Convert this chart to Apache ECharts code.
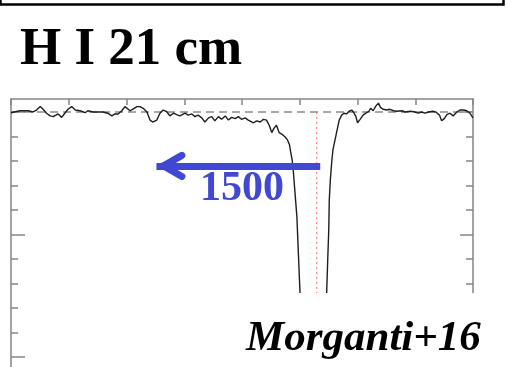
<!DOCTYPE html>
<html>
<head>
<meta charset="utf-8">
<script src="https://cdn.jsdelivr.net/npm/echarts@6/dist/echarts.min.js"></script>
<style>
  html, body { margin: 0; padding: 0; background: #fff; }
  #chart { width: 508px; height: 367px; }
</style>
</head>
<body>
<div id="chart"></div>
<script>
// H I 21 cm absorption spectrum: flux (mJy, continuum-subtracted) vs velocity (km/s) relative to systemic
const velocity = [
  -2925, -2840, -2760, -2715, -2680, -2645, -2620, -2585, -2550, -2520,
  -2475, -2440, -2410, -2380, -2345, -2310, -2265, -2215, -2190, -2140,
  -2090, -2045, -2000, -1960, -1930, -1900, -1865, -1835, -1820, -1785,
  -1755, -1720, -1690, -1660, -1625, -1595, -1570, -1530, -1500, -1470,
  -1435, -1405, -1370, -1340, -1310, -1260, -1230, -1195, -1165, -1135,
  -1100, -1070, -1035, -1005, -975, -940, -910, -875, -845, -815,
  -780, -750, -720, -685, -655, -605, -575, -540, -510, -480,
  -455, -430, -410, -385, -360, -335, -305, -280, -260, -250,
  -235, -225, -210, -190, -175, -160, -145, -120, -35, 50,
  90, 95, 105, 115, 120, 130, 145, 155, 175, 195,
  215, 240, 260, 285, 310, 335, 355, 375, 390, 415,
  445, 470, 500, 515, 540, 565, 590, 610, 635, 670,
  700, 735, 765, 815, 845, 895, 940, 970, 1005, 1035,
  1070, 1110, 1140, 1175, 1195, 1220, 1245, 1275, 1305, 1340,
  1370, 1405, 1435, 1465, 1495
];
const flux = [
  -0.03, 0.05, 0.05, 0, 0.08, 0.22, 0.12, -0.05, -0.16, -0.19,
  -0.08, -0.22, -0.05, 0.11, 0.22, 0.08, 0.05, -0.03, 0.05, 0,
  0, 0, -0.05, -0.16, -0.08, -0.08, 0.05, 0.22, 0.27, 0.05,
  0.13, 0.22, 0.22, 0.15, 0, -0.33, -0.41, -0.33, -0.05, 0.08,
  0.01, -0.16, -0.05, -0.11, -0.16, -0.05, -0.13, -0.08, -0.19, -0.13,
  -0.24, -0.41, -0.24, -0.19, -0.36, -0.19, -0.30, -0.16, -0.33, -0.22,
  -0.27, -0.19, -0.30, -0.24, -0.33, -0.44, -0.36, -0.41, -0.30, -0.33,
  -0.54, -0.84, -0.67, -0.54, -0.84, -0.90, -1.01, -1.14, -1.35, -1.62,
  -1.96, -2.37, -3.18, -4.27, -5.84, -7.38, -8.9, -10.94, -12.98, -12.57,
  -8.9, -7.38, -6.04, -4.82, -3.59, -2.78, -1.96, -1.55, -1.14, -0.73,
  -0.33, -0.12, -0.05, -0.08, 0.03, 0.08, -0.03, -0.19, -0.44, -0.30,
  -0.12, -0.05, 0.03, 0.15, 0.05, 0.24, 0.36, 0.19, 0.11, 0.08,
  0.11, 0.05, 0.03, 0.05, 0, 0.03, 0, -0.05, 0, -0.05,
  0, 0.03, 0, -0.13, -0.36, -0.27, -0.11, -0.05, -0.16, 0,
  0.08, 0.08, 0.05, -0.05, -0.24
];

// axis ranges and tick positions
const xMin = -2925, xMax = 1495;
const xTicks = [-2925, -2372.5, -1820, -1267.5, -715, -162.5, 390, 942.5, 1495];
const yMin = -10.41, yMax = 0.53;
const yMajorTicks = [-10, -5, 0];
const yMinorTicks = [-9, -8, -7, -6, -4, -3, -2, -1];

// reference levels and annotations
const continuumLevel = 0;
const systemicVelocity = 0;
const outflowShift = 1500;      // km/s, blueshifted wing
const arrowLevel = -2.2;        // mJy, height of the shift arrow
const titleText = 'H I 21 cm';
const creditText = 'Morganti+16';

const serif = '"Liberation Serif", "Times New Roman", serif';
const axisGray = '#858585';
const arrowBlue = '#4148d3';

const chart = echarts.init(document.getElementById('chart'), null, { renderer: 'canvas' });
const spectrum = velocity.map((v, i) => [v, flux[i]]);

function yAxisDef(position, ticks, len, showLine) {
  return {
    type: 'value', position: position, min: yMin, max: yMax,
    axisLine: { show: showLine, onZero: false, lineStyle: { color: axisGray, width: 1.5 } },
    axisTick: { show: true, inside: true, length: len, customValues: ticks,
                lineStyle: { color: axisGray, width: 1.5 } },
    axisLabel: { show: false },
    splitLine: { show: false }
  };
}

// arrowhead arms, in data units, meeting at the arrow tip
const tipV = systemicVelocity - outflowShift + 35;
const armV = systemicVelocity - outflowShift + 210;
const armDy = 0.43;

const option = {
  animation: false,
  backgroundColor: '#fff',
  title: {
    text: titleText, left: 15, top: 19,
    textStyle: { fontFamily: serif, fontWeight: 'bold', fontSize: 53, color: '#000' }
  },
  grid: { left: 11, right: 35, top: 99, bottom: 0 },
  xAxis: [{
    type: 'value', position: 'top', min: xMin, max: xMax,
    axisLine: { show: true, onZero: false, lineStyle: { color: axisGray, width: 1.5 } },
    axisTick: { show: true, inside: true, length: 6, customValues: xTicks,
                lineStyle: { color: axisGray, width: 1.5 } },
    axisLabel: { show: false },
    splitLine: { show: false }
  }],
  yAxis: [
    yAxisDef('left', yMajorTicks, 14, true),
    yAxisDef('left', yMinorTicks, 7, false),
    yAxisDef('right', yMajorTicks, 13, true),
    yAxisDef('right', yMinorTicks, 7, false)
  ],
  series: [
    {
      name: 'continuum', type: 'line', z: 1, symbol: 'none', silent: true,
      data: [[xMin, continuumLevel], [xMax, continuumLevel]],
      lineStyle: { color: '#8c8c8c', width: 1.5, type: [8, 5] }
    },
    {
      name: 'systemic', type: 'line', z: 1, symbol: 'none', silent: true,
      data: [[systemicVelocity, continuumLevel], [systemicVelocity, yMin]],
      lineStyle: { color: '#ff6a6a', width: 1, type: [2, 3] }
    },
    {
      name: 'H I', type: 'line', z: 3, symbol: 'none', silent: true,
      data: spectrum,
      lineStyle: { color: '#1e1e1e', width: 1.4 }
    },
    {
      name: 'shift', type: 'line', z: 5, data: [], silent: true,
      markLine: {
        silent: true, symbol: ['none', 'none'], animation: false,
        label: { show: false },
        lineStyle: { color: arrowBlue, width: 7, type: 'solid', cap: 'square' },
        data: [
          [{ coord: [systemicVelocity, arrowLevel] }, { coord: [systemicVelocity - outflowShift, arrowLevel] }],
          [{ coord: [tipV, arrowLevel], lineStyle: { cap: 'round' } }, { coord: [armV, arrowLevel + armDy] }],
          [{ coord: [tipV, arrowLevel], lineStyle: { cap: 'round' } }, { coord: [armV, arrowLevel - armDy] }]
        ]
      }
    }
  ],
  graphic: [
    {
      type: 'rect', z: 100, silent: true,
      shape: { x: 0.5, y: -30, width: 503, height: 34.5 },
      style: { fill: 'none', stroke: '#000', lineWidth: 2.5 }
    },
    {
      type: 'rect', z: 100, silent: true,
      shape: { x: 200, y: 293, width: 308, height: 74 },
      style: { fill: '#fff' }
    },
    {
      type: 'text', z: 101, x: 200, y: 189,
      style: { text: String(outflowShift), fill: arrowBlue, font: 'bold 42px ' + serif,
               textAlign: 'left', textVerticalAlign: 'middle' }
    },
    {
      type: 'text', z: 101, x: 246, y: 339,
      style: { text: creditText, fill: '#000', font: 'italic bold 43px ' + serif,
               textAlign: 'left', textVerticalAlign: 'middle' }
    }
  ]
};

chart.setOption(option);
</script>
</body>
</html>
